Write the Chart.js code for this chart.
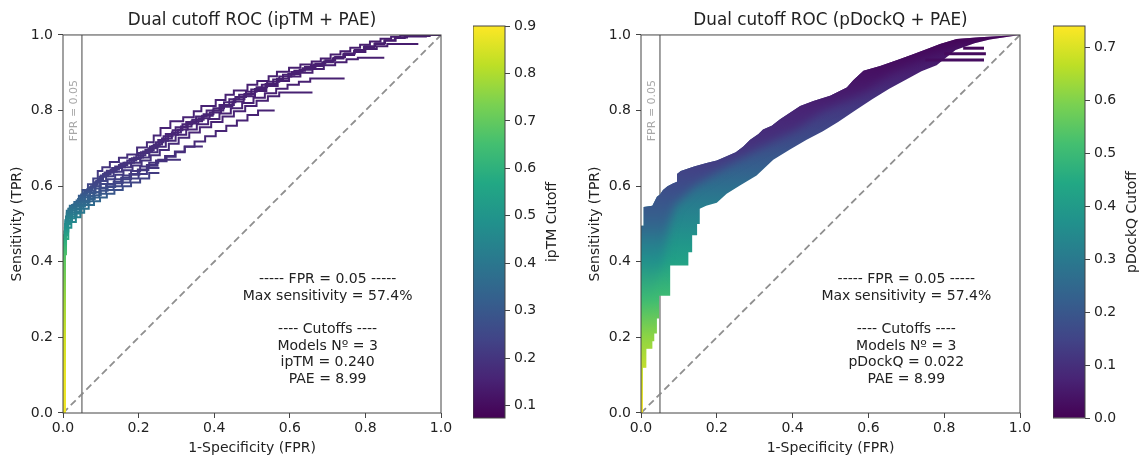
<!DOCTYPE html>
<html><head><meta charset="utf-8">
<script src="https://cdn.jsdelivr.net/npm/chart.js@4.4.1/dist/chart.umd.min.js"></script>
<style>
html,body{margin:0;padding:0;background:#fff;overflow:hidden;width:1141px;height:459px;}
canvas{position:absolute;top:0;}
</style></head><body>
<canvas id="rocL" width="461" height="459" style="left:0px;width:461px;height:459px"></canvas>
<canvas id="cbL" width="88" height="459" style="left:473px;width:88px;height:459px"></canvas>
<canvas id="rocR" width="462" height="459" style="left:578px;width:462px;height:459px"></canvas>
<canvas id="cbR" width="88" height="459" style="left:1053px;width:88px;height:459px"></canvas>
<script>
// ---------------- DATA ----------------
const axisTicks = [0, 0.2, 0.4, 0.6, 0.8, 1.0];
const fprCutoff = 0.05;
const chanceLine = [[0, 0], [1, 1]];

const iptmColorbarTicks = [0.1, 0.2, 0.3, 0.4, 0.5, 0.6, 0.7, 0.8, 0.9];
const iptmColorRange = [0.074, 0.9];
const pdockqColorbarTicks = [0.0, 0.1, 0.2, 0.3, 0.4, 0.5, 0.6, 0.7];
const pdockqColorRange = [0.0, 0.741];

// ipTM cutoff reached along the curves, by sensitivity level
const iptmTprLevels   = [0.0, 0.1, 0.2, 0.3, 0.4, 0.45, 0.49, 0.53, 0.57, 0.6, 0.65, 0.75, 1.0];
const iptmCutoffAtTpr = [0.883, 0.875, 0.842, 0.776, 0.694, 0.603, 0.487, 0.404, 0.322, 0.256, 0.198, 0.157, 0.14];

// ipTM + PAE ROC curves (FPR, TPR), one per PAE cutoff
const iptmCurve1 = [[0,0],[0.004,0],[0.006,0.48],[0.010,0.51],[0.018,0.535],[0.030,0.548],[0.042,0.558],[0.052,0.575],[0.066,0.59],[0.080,0.605],[0.092,0.62],[0.104,0.64],[0.124,0.65],[0.148,0.664],[0.170,0.675],[0.196,0.684],[0.222,0.702],[0.240,0.716],[0.258,0.734],[0.284,0.754],[0.318,0.772],[0.346,0.782],[0.366,0.798],[0.404,0.812],[0.430,0.828],[0.452,0.842],[0.488,0.853],[0.514,0.868],[0.544,0.878],[0.566,0.891],[0.598,0.903],[0.628,0.913],[0.658,0.922],[0.682,0.93],[0.708,0.938],[0.734,0.948],[0.760,0.957],[0.786,0.966],[0.812,0.974],[0.840,0.983],[0.868,0.99],[0.892,0.995],[0.950,0.998],[1,1]];
const iptmCurve2 = [[0,0],[0.005,0],[0.008,0.49],[0.014,0.52],[0.024,0.54],[0.036,0.55],[0.048,0.562],[0.058,0.578],[0.072,0.588],[0.086,0.598],[0.100,0.612],[0.116,0.628],[0.138,0.641],[0.160,0.652],[0.182,0.662],[0.206,0.674],[0.230,0.69],[0.252,0.705],[0.272,0.722],[0.298,0.738],[0.326,0.756],[0.352,0.77],[0.380,0.784],[0.414,0.8],[0.440,0.815],[0.466,0.83],[0.498,0.842],[0.526,0.856],[0.556,0.868],[0.582,0.882],[0.612,0.895],[0.640,0.905],[0.668,0.915],[0.694,0.924],[0.720,0.933],[0.746,0.942],[0.772,0.951],[0.798,0.96],[0.826,0.97],[0.852,0.978],[0.878,0.986],[0.904,0.992],[0.960,0.996],[1,1]];
const iptmCurve3 = [[0,0],[0.004,0],[0.007,0.47],[0.012,0.505],[0.022,0.53],[0.034,0.545],[0.046,0.556],[0.056,0.57],[0.068,0.584],[0.082,0.596],[0.096,0.61],[0.110,0.625],[0.130,0.636],[0.152,0.648],[0.176,0.66],[0.200,0.672],[0.226,0.688],[0.246,0.7],[0.266,0.716],[0.290,0.732],[0.316,0.748],[0.342,0.764],[0.372,0.776],[0.398,0.79],[0.426,0.806],[0.456,0.822],[0.484,0.836],[0.512,0.85],[0.540,0.862],[0.572,0.876],[0.604,0.89],[0.634,0.902],[0.662,0.912],[0.690,0.922],[0.716,0.93],[0.742,0.94],[0.770,0.95],[0.796,0.958],[0.824,0.968],[0.850,0.976],[0.880,0.985],[0.910,0.993],[0.970,0.997],[1,1]];
const iptmCurve4 = [[0,0],[0.004,0],[0.006,0.46],[0.010,0.5],[0.018,0.528],[0.028,0.542],[0.040,0.552],[0.052,0.566],[0.064,0.58],[0.078,0.592],[0.092,0.604],[0.106,0.618],[0.126,0.632],[0.148,0.644],[0.170,0.656],[0.194,0.668],[0.218,0.682],[0.240,0.696],[0.262,0.71],[0.288,0.726],[0.312,0.742],[0.340,0.758],[0.368,0.772],[0.396,0.786],[0.424,0.8],[0.452,0.815],[0.480,0.83],[0.508,0.844],[0.536,0.857],[0.566,0.87],[0.596,0.884],[0.626,0.897],[0.656,0.908],[0.686,0.918],[0.714,0.928],[0.742,0.938],[0.770,0.947],[0.800,0.955],[0.830,0.963],[0.858,0.97],[0.940,0.976]];
const iptmCurve5 = [[0,0],[0.005,0],[0.008,0.48],[0.016,0.515],[0.026,0.538],[0.038,0.55],[0.050,0.56],[0.060,0.574],[0.074,0.586],[0.088,0.6],[0.102,0.614],[0.120,0.626],[0.142,0.638],[0.164,0.65],[0.188,0.662],[0.212,0.676],[0.236,0.692],[0.256,0.706],[0.278,0.72],[0.304,0.736],[0.330,0.75],[0.358,0.766],[0.388,0.78],[0.418,0.795],[0.448,0.81],[0.478,0.824],[0.508,0.838],[0.538,0.852],[0.568,0.865],[0.598,0.878],[0.628,0.89],[0.660,0.9],[0.690,0.91],[0.720,0.92],[0.750,0.928],[0.780,0.936],[0.850,0.94]];
const iptmCurve6 = [[0,0],[0.004,0],[0.006,0.47],[0.012,0.5],[0.022,0.525],[0.034,0.54],[0.046,0.55],[0.056,0.562],[0.070,0.576],[0.084,0.588],[0.098,0.6],[0.114,0.614],[0.134,0.626],[0.156,0.638],[0.180,0.65],[0.204,0.662],[0.228,0.676],[0.250,0.69],[0.272,0.704],[0.298,0.72],[0.326,0.736],[0.354,0.75],[0.384,0.764],[0.414,0.778],[0.444,0.792],[0.474,0.806],[0.504,0.82],[0.534,0.834],[0.564,0.846],[0.594,0.858],[0.624,0.868],[0.654,0.876],[0.745,0.885]];
const iptmCurve7 = [[0,0],[0.005,0],[0.008,0.46],[0.014,0.495],[0.024,0.52],[0.036,0.535],[0.048,0.546],[0.058,0.558],[0.072,0.57],[0.086,0.582],[0.100,0.594],[0.118,0.606],[0.138,0.618],[0.160,0.63],[0.184,0.642],[0.208,0.655],[0.232,0.668],[0.256,0.682],[0.280,0.696],[0.306,0.712],[0.334,0.728],[0.362,0.742],[0.392,0.756],[0.422,0.77],[0.452,0.784],[0.482,0.798],[0.512,0.812],[0.542,0.826],[0.572,0.838],[0.660,0.848]];
const iptmCurve8 = [[0,0],[0.004,0],[0.006,0.45],[0.012,0.49],[0.020,0.515],[0.032,0.53],[0.044,0.54],[0.054,0.552],[0.066,0.562],[0.080,0.574],[0.096,0.584],[0.114,0.594],[0.134,0.604],[0.154,0.612],[0.176,0.622],[0.198,0.632],[0.222,0.644],[0.246,0.656],[0.270,0.668],[0.296,0.68],[0.322,0.692],[0.348,0.704],[0.376,0.718],[0.404,0.732],[0.432,0.746],[0.460,0.76],[0.488,0.774],[0.516,0.788],[0.560,0.8]];
const iptmCurve9 = [[0,0],[0.005,0],[0.008,0.44],[0.014,0.48],[0.024,0.505],[0.036,0.52],[0.048,0.532],[0.058,0.546],[0.070,0.556],[0.084,0.566],[0.100,0.576],[0.118,0.588],[0.138,0.598],[0.158,0.608],[0.180,0.618],[0.202,0.63],[0.226,0.642],[0.250,0.654],[0.274,0.666],[0.298,0.678],[0.322,0.69],[0.370,0.705]];
const iptmCurve10 = [[0,0],[0.004,0],[0.006,0.43],[0.012,0.47],[0.020,0.5],[0.032,0.515],[0.044,0.528],[0.054,0.54],[0.066,0.55],[0.080,0.56],[0.096,0.57],[0.114,0.58],[0.134,0.59],[0.156,0.6],[0.178,0.61],[0.200,0.62],[0.222,0.632],[0.255,0.648]];
const iptmCurve11 = [[0,0],[0.005,0],[0.008,0.42],[0.014,0.46],[0.022,0.49],[0.034,0.505],[0.046,0.518],[0.056,0.53],[0.068,0.54],[0.082,0.55],[0.098,0.56],[0.116,0.57],[0.136,0.58],[0.158,0.59],[0.180,0.6],[0.204,0.61],[0.228,0.62],[0.255,0.635]];
const iptmCurve12 = [[0,0],[0.004,0],[0.007,0.45],[0.013,0.485],[0.022,0.51],[0.034,0.525],[0.046,0.538],[0.056,0.55],[0.068,0.56],[0.082,0.572],[0.098,0.584],[0.116,0.596],[0.136,0.606],[0.158,0.618],[0.180,0.628],[0.204,0.64],[0.228,0.652],[0.252,0.662],[0.312,0.67]];
const iptmCurves = [iptmCurve1, iptmCurve2, iptmCurve3, iptmCurve4, iptmCurve5, iptmCurve6, iptmCurve7, iptmCurve8, iptmCurve9, iptmCurve10, iptmCurve11, iptmCurve12];

// pDockQ + PAE: outline of the dense family of ROC curves (FPR, TPR)
const pdockqUpperEdge = [[0,0],[0,0.495],[0.007,0.495],[0.007,0.545],[0.03,0.548],[0.036,0.56],[0.042,0.572],[0.05,0.578],[0.058,0.59],[0.07,0.6],[0.084,0.607],[0.095,0.612],[0.095,0.632],[0.105,0.64],[0.14,0.652],[0.173,0.661],[0.2,0.668],[0.226,0.679],[0.25,0.69],[0.27,0.705],[0.288,0.723],[0.31,0.738],[0.322,0.75],[0.345,0.76],[0.367,0.777],[0.39,0.792],[0.42,0.812],[0.455,0.825],[0.499,0.839],[0.543,0.861],[0.56,0.88],[0.587,0.905],[0.631,0.918],[0.68,0.935],[0.718,0.949],[0.76,0.965],[0.789,0.976],[0.833,0.989],[0.894,0.994],[0.95,0.997],[1,1]];
const pdockqMidLine = [[0,0],[0.003,0.1],[0.017,0.2],[0.024,0.3],[0.06,0.4],[0.075,0.5],[0.09,0.55],[0.14,0.6],[0.22,0.65],[0.31,0.7],[0.41,0.75],[0.48,0.8],[0.59,0.85],[0.66,0.9],[0.77,0.95],[0.85,0.98],[1,1]];
const pdockqLowerEdge = [[0,0],[0.005,0],[0.005,0.12],[0.014,0.12],[0.014,0.17],[0.03,0.17],[0.03,0.19],[0.035,0.19],[0.035,0.21],[0.042,0.21],[0.042,0.25],[0.048,0.25],[0.048,0.31],[0.077,0.31],[0.077,0.39],[0.125,0.39],[0.125,0.425],[0.135,0.425],[0.135,0.47],[0.148,0.47],[0.148,0.5],[0.155,0.5],[0.155,0.54],[0.172,0.548],[0.2,0.556],[0.226,0.58],[0.261,0.602],[0.305,0.628],[0.349,0.67],[0.393,0.697],[0.437,0.723],[0.48,0.745],[0.52,0.77],[0.565,0.8],[0.61,0.83],[0.655,0.858],[0.7,0.882],[0.74,0.904],[0.78,0.92],[0.83,0.96],[0.88,0.978],[0.92,0.988],[1,1]];
const pdockqTailCurves = [[[0.75,0.934],[0.905,0.934]], [[0.80,0.95],[0.91,0.95]], [[0.85,0.965],[0.905,0.965]]];
// pDockQ cutoff reached, by sensitivity level, on the lower (right) and upper (left) side of the family
const pdockqTprLevels       = [0.0, 0.1, 0.2, 0.3, 0.4, 0.45, 0.5, 0.55, 0.6, 0.65, 0.7, 0.8, 0.9, 1.0];
const pdockqCutoffLowerSide = [0.734, 0.689, 0.615, 0.511, 0.422, 0.385, 0.348, 0.311, 0.267, 0.222, 0.185, 0.126, 0.067, 0.022];
const pdockqCutoffUpperSide = [0.734, 0.689, 0.615, 0.504, 0.371, 0.311, 0.237, 0.200, 0.170, 0.141, 0.111, 0.074, 0.033, 0.007];

const notePosition = [0.70, 0.353];
const iptmNote = ['----- FPR = 0.05 -----', 'Max sensitivity = 57.4%', '', '---- Cutoffs ----', 'Models Nº = 3', 'ipTM = 0.240', 'PAE = 8.99'];
const pdockqNote = ['----- FPR = 0.05 -----', 'Max sensitivity = 57.4%', '', '---- Cutoffs ----', 'Models Nº = 3', 'pDockQ = 0.022', 'PAE = 8.99'];
const fprLabelPosition = [0.030, 0.80];

// ---------------- STYLE ----------------
const FONT = '"DejaVu Sans", "Liberation Sans", sans-serif';
const TEXT = '#222222';
const SPINE = '#444444';
Chart.defaults.font.family = FONT;
Chart.defaults.color = TEXT;

const VIRIDIS = [[68,1,84],[72,36,117],[65,68,135],[53,95,141],[42,120,142],[33,145,140],[34,168,132],[68,191,112],[122,209,81],[189,223,38],[253,231,37]];
function viridis(t) {
  t = Math.min(1, Math.max(0, t));
  const s = t * 10, i = Math.min(9, Math.floor(s)), f = s - i;
  const a = VIRIDIS[i], b = VIRIDIS[i + 1];
  const c = a.map((v, k) => Math.round(v + (b[k] - v) * f));
  return `rgb(${c[0]},${c[1]},${c[2]})`;
}
function tprGradient(chart, levels, cutoffs, range) {
  const y = chart.scales.y;
  const g = chart.ctx.createLinearGradient(0, y.getPixelForValue(0), 0, y.getPixelForValue(1));
  levels.forEach((l, i) => g.addColorStop(l, viridis((cutoffs[i] - range[0]) / (range[1] - range[0]))));
  return g;
}
const toXY = pts => pts.map(p => ({x: p[0], y: p[1]}));

const framePlugin = {
  id: 'frame',
  afterDraw(chart) {
    const {ctx, chartArea: a} = chart;
    ctx.save();
    ctx.strokeStyle = SPINE; ctx.lineWidth = 1;
    ctx.strokeRect(a.left, a.top, a.right - a.left, a.bottom - a.top);
    ctx.restore();
  }
};
const notePlugin = {
  id: 'note',
  afterDatasetsDraw(chart, args, o) {
    if (!o || !o.lines) return;
    const {ctx, scales: {x, y}} = chart;
    ctx.save();
    ctx.font = `14px ${FONT}`; ctx.fillStyle = TEXT;
    ctx.textAlign = 'center'; ctx.textBaseline = 'middle';
    const cx = x.getPixelForValue(o.pos[0]), cy = y.getPixelForValue(o.pos[1]);
    o.lines.forEach((t, i) => { if (t) ctx.fillText(t, cx, cy + i * 16.6); });
    ctx.font = `11px ${FONT}`; ctx.fillStyle = '#a8a8a8';
    ctx.translate(x.getPixelForValue(o.vpos[0]), y.getPixelForValue(o.vpos[1]));
    ctx.rotate(-Math.PI / 2);
    ctx.fillText(o.vtext, 0, 0);
    ctx.restore();
  }
};
function trace(ctx, pts) { for (let i = 1; i < pts.length; i++) ctx.lineTo(pts[i].x, pts[i].y); }
const bandPlugin = {
  id: 'band',
  beforeDatasetDraw(chart, args, o) {
    if (!o || args.index !== o.drawAt) return;
    const {ctx, chartArea: a} = chart;
    const U = chart.getDatasetMeta(o.upper).data;
    const M = chart.getDatasetMeta(o.mid).data;
    const L = chart.getDatasetMeta(o.lower).data;
    const Lrev = L.slice().reverse();
    ctx.save();
    ctx.beginPath(); ctx.rect(a.left, a.top, a.right - a.left, a.bottom - a.top); ctx.clip();
    // outline of the whole family
    ctx.beginPath(); ctx.moveTo(U[0].x, U[0].y);
    trace(ctx, U); ctx.lineTo(Lrev[0].x, Lrev[0].y); trace(ctx, Lrev);
    ctx.closePath();
    ctx.clip();
    ctx.fillStyle = tprGradient(chart, pdockqTprLevels, pdockqCutoffLowerSide, pdockqColorRange);
    ctx.fillRect(a.left, a.top, a.right - a.left, a.bottom - a.top);
    // everything on the upper-left side of the middle curve, coloured by the upper-side cutoffs
    ctx.filter = 'blur(5px)';
    ctx.beginPath(); ctx.moveTo(M[0].x, M[0].y); trace(ctx, M);
    ctx.lineTo(a.right + 60, a.top - 60); ctx.lineTo(a.left - 60, a.top - 60); ctx.lineTo(a.left - 60, a.bottom + 60);
    ctx.lineTo(M[0].x, a.bottom + 60);
    ctx.closePath();
    ctx.fillStyle = tprGradient(chart, pdockqTprLevels, pdockqCutoffUpperSide, pdockqColorRange);
    ctx.fill();
    ctx.restore();
  }
};
const cbLabelPlugin = {
  id: 'cbLabel',
  afterDraw(chart, args, o) {
    const {ctx, chartArea: a} = chart;
    ctx.save();
    ctx.font = `14px ${FONT}`; ctx.fillStyle = TEXT;
    ctx.textAlign = 'center'; ctx.textBaseline = 'middle';
    ctx.translate(a.left + o.offset, (a.top + a.bottom) / 2);
    ctx.rotate(-Math.PI / 2);
    ctx.fillText(o.text, 0, 0);
    ctx.restore();
  }
};

function refDatasets() {
  return [
    {data: toXY([[fprCutoff, 0], [fprCutoff, 1]]), showLine: true, borderColor: '#8a8a8a', borderWidth: 1.6, pointRadius: 0},
    {data: toXY(chanceLine), showLine: true, borderColor: '#8f8f8f', borderWidth: 1.8, borderDash: [7, 4], pointRadius: 0}
  ];
}

function rocChart(id, title, datasets, pluginOpts, extraPlugins) {
  const tickFont = {family: FONT, size: 14};
  return new Chart(document.getElementById(id), {
    type: 'scatter',
    data: {datasets},
    options: {
      responsive: false, animation: false, devicePixelRatio: 1,
      layout: {padding: {left: 0, right: 20, top: 0, bottom: 0}},
      elements: {point: {radius: 0, hoverRadius: 0}},
      plugins: Object.assign({
        legend: {display: false}, tooltip: {enabled: false},
        title: {display: true, text: title, fullSize: false, color: TEXT,
                font: {family: FONT, size: 16.8, weight: 'normal'}, padding: {top: 10.5, bottom: 4.3}}
      }, pluginOpts),
      scales: {
        x: {type: 'linear', min: 0, max: 1,
            afterBuildTicks: s => { s.ticks = axisTicks.map(v => ({value: v})); },
            afterFit: s => { s.height = 46; },
            title: {display: true, text: '1-Specificity (FPR)', color: TEXT, font: tickFont, padding: {top: 0, bottom: 2.6}},
            grid: {drawOnChartArea: false, drawTicks: true, tickLength: 5, color: SPINE, lineWidth: 1},
            border: {display: false},
            ticks: {padding: 2, font: tickFont, color: TEXT, maxRotation: 0, autoSkip: false, callback: v => Number(v).toFixed(1)}},
        y: {type: 'linear', min: 0, max: 1,
            afterBuildTicks: s => { s.ticks = axisTicks.map(v => ({value: v})); },
            afterFit: s => { s.width = 63; },
            title: {display: true, text: 'Sensitivity (TPR)', color: TEXT, font: tickFont, padding: {top: 8.6, bottom: 0}},
            grid: {drawOnChartArea: false, drawTicks: true, tickLength: 5, color: SPINE, lineWidth: 1},
            border: {display: false},
            ticks: {padding: 5, font: tickFont, color: TEXT, autoSkip: false, callback: v => Number(v).toFixed(1)}}
      }
    },
    plugins: [framePlugin, notePlugin].concat(extraPlugins || [])
  });
}

function colorbar(id, ticks, range, label) {
  return new Chart(document.getElementById(id), {
    type: 'bar',
    data: {labels: [''], datasets: [{
      data: [[range[0], range[1]]],
      backgroundColor: c => {
        const ch = c.chart; if (!ch.chartArea) return '#21918c';
        const y = ch.scales.y;
        const g = ch.ctx.createLinearGradient(0, y.getPixelForValue(range[0]), 0, y.getPixelForValue(range[1]));
        VIRIDIS.forEach((v, i) => g.addColorStop(i / 10, `rgb(${v[0]},${v[1]},${v[2]})`));
        return g;
      },
      borderWidth: 0, barPercentage: 1, categoryPercentage: 1
    }]},
    options: {
      responsive: false, animation: false, devicePixelRatio: 1,
      layout: {padding: {top: 26, bottom: 41, left: 0, right: 0}},
      plugins: {legend: {display: false}, tooltip: {enabled: false}, cbLabel: {text: label, offset: 79}},
      scales: {
        x: {display: false},
        y: {position: 'right', min: range[0], max: range[1],
            afterBuildTicks: s => { s.ticks = ticks.map(v => ({value: v})); },
            afterFit: s => { s.width = 56; },
            grid: {drawOnChartArea: false, drawTicks: true, tickLength: 5, color: SPINE, lineWidth: 1},
            border: {display: false},
            ticks: {padding: 4, font: {family: FONT, size: 14}, color: TEXT, autoSkip: false, callback: v => Number(v).toFixed(1)}}
      }
    },
    plugins: [framePlugin, cbLabelPlugin]
  });
}

// ---------------- LEFT: ipTM + PAE ----------------
const iptmColor = c => c.chart.chartArea ? tprGradient(c.chart, iptmTprLevels, iptmCutoffAtTpr, iptmColorRange) : '#482475';
const leftSets = iptmCurves.map(pts => ({
  data: toXY(pts), showLine: true, stepped: 'after', borderColor: iptmColor, borderWidth: 2, pointRadius: 0
})).concat(refDatasets());
rocChart('rocL', 'Dual cutoff ROC (ipTM + PAE)', leftSets,
  {note: {lines: iptmNote, pos: notePosition, vpos: fprLabelPosition, vtext: 'FPR = 0.05'}});
colorbar('cbL', iptmColorbarTicks, iptmColorRange, 'ipTM Cutoff');

// ---------------- RIGHT: pDockQ + PAE ----------------
const pdockqColor = c => c.chart.chartArea ? tprGradient(c.chart, pdockqTprLevels, pdockqCutoffUpperSide, pdockqColorRange) : '#440154';
const rightSets = pdockqTailCurves.map(pts => ({
  data: toXY(pts), showLine: true, borderColor: pdockqColor, borderWidth: 3, pointRadius: 0
}));
const upperIdx = rightSets.length;
rightSets.push({data: toXY(pdockqUpperEdge), showLine: false, pointRadius: 0});
rightSets.push({data: toXY(pdockqMidLine), showLine: false, pointRadius: 0});
rightSets.push({data: toXY(pdockqLowerEdge), showLine: false, pointRadius: 0});
const refs = refDatasets();
rightSets.push(refs[0], refs[1]);
rocChart('rocR', 'Dual cutoff ROC (pDockQ + PAE)', rightSets,
  {note: {lines: pdockqNote, pos: notePosition, vpos: fprLabelPosition, vtext: 'FPR = 0.05'},
   band: {upper: upperIdx, mid: upperIdx + 1, lower: upperIdx + 2, drawAt: upperIdx + 2}},
  [bandPlugin]);
colorbar('cbR', pdockqColorbarTicks, pdockqColorRange, 'pDockQ Cutoff');
</script>
</body></html>
